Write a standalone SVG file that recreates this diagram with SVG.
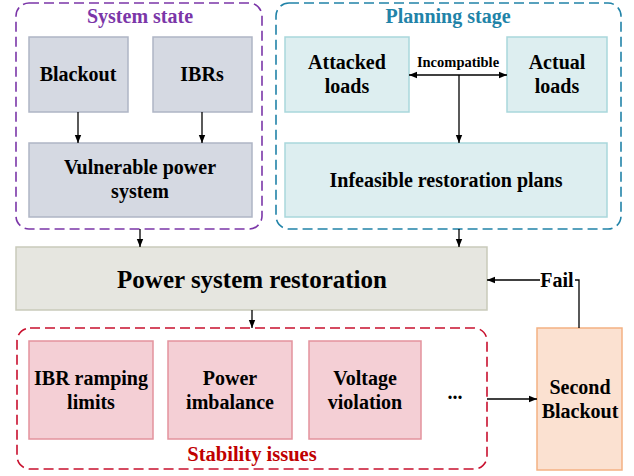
<svg xmlns="http://www.w3.org/2000/svg" width="634" height="476" viewBox="0 0 634 476">
<defs>
<marker id="ah" viewBox="0 0 8 8" refX="8" refY="4" markerWidth="8" markerHeight="8" markerUnits="userSpaceOnUse" orient="auto-start-reverse">
<path d="M0,0.8 L8,4 L0,7.2 Z" fill="#000"/>
</marker>
<style>
text{font-family:"Liberation Serif","Times New Roman",serif;font-weight:bold;text-anchor:middle;fill:#000}
.t{font-size:20px}
.grp{fill:none;stroke-width:1.6;stroke-dasharray:10 5}
.gs{fill:#D5D9E2;stroke:#AEB5C5;stroke-width:1.5}
.gp{fill:#DDEEF0;stroke:#A9D7DC;stroke-width:1.5}
.gr{fill:#E6E6E0;stroke:#C9CABA;stroke-width:1.5}
.gx{fill:#F4CFD5;stroke:#E3939D;stroke-width:1.5}
.gb{fill:#FBE1D1;stroke:#F4B183;stroke-width:1.5}
.c{fill:none;stroke:#000;stroke-width:1.3}
</style>
</defs>
<rect width="634" height="476" fill="#fff"/>

<g id="system-state">
<rect class="grp" x="16" y="3" width="246" height="226" rx="13" stroke="#7B36A8"/>
<text x="140" y="23" style="font-size:20px;fill:#7B36A8">System state</text>
</g>
<g id="planning-stage">
<rect class="grp" x="276" y="3" width="345" height="226" rx="13" stroke="#2183A8"/>
<text x="448" y="23" style="font-size:20px;fill:#2183A8">Planning stage</text>
</g>
<g id="stability-issues">
<rect class="grp" x="17" y="328" width="470" height="141" rx="13" stroke="#C8102E"/>
<text x="252" y="461" style="font-size:20.5px;fill:#C00000">Stability issues</text>
</g>

<g id="blackout"><rect class="gs" x="29" y="37" width="99" height="75"/><text class="t" x="78" y="81">Blackout</text></g>
<g id="ibrs"><rect class="gs" x="153" y="37" width="99" height="75"/><text class="t" x="202" y="81">IBRs</text></g>
<g id="vulnerable"><rect class="gs" x="29" y="143" width="223" height="74"/><text class="t" x="140" y="174">Vulnerable power</text><text class="t" x="140" y="198">system</text></g>

<g id="attacked"><rect class="gp" x="285" y="37" width="124" height="75"/><text class="t" x="347" y="69">Attacked</text><text class="t" x="347" y="93">loads</text></g>
<g id="actual"><rect class="gp" x="507" y="37" width="100" height="75"/><text class="t" x="557" y="69">Actual</text><text class="t" x="557" y="93">loads</text></g>
<g id="infeasible"><rect class="gp" x="285" y="143" width="322" height="74"/><text class="t" x="446" y="187">Infeasible restoration plans</text></g>

<g id="restoration"><rect class="gr" x="16" y="247" width="471" height="63"/><text x="252" y="288" style="font-size:25px">Power system restoration</text></g>

<g id="ibr-ramping"><rect class="gx" x="29" y="341" width="124" height="98"/><text class="t" x="91" y="385">IBR ramping</text><text class="t" x="91" y="409">limits</text></g>
<g id="power-imbalance"><rect class="gx" x="168" y="341" width="124" height="98"/><text class="t" x="230" y="385">Power</text><text class="t" x="230" y="409">imbalance</text></g>
<g id="voltage-violation"><rect class="gx" x="309" y="341" width="112" height="98"/><text class="t" x="365" y="385">Voltage</text><text class="t" x="365" y="409">violation</text></g>
<g id="more"><text class="t" x="455" y="399">...</text></g>

<g id="second-blackout"><rect class="gb" x="537" y="328" width="85" height="142"/><text class="t" x="580" y="394">Second</text><text class="t" x="580" y="418">Blackout</text></g>

<g id="connectors">
<line class="c" x1="78" y1="112" x2="78" y2="143" marker-end="url(#ah)"/>
<line class="c" x1="202" y1="112" x2="202" y2="143" marker-end="url(#ah)"/>
<line class="c" x1="409" y1="75" x2="507" y2="75" marker-start="url(#ah)" marker-end="url(#ah)"/>
<line class="c" x1="459" y1="75" x2="459" y2="143" marker-end="url(#ah)"/>
<text x="458" y="67" style="font-size:14.5px">Incompatible</text>
<line class="c" x1="140" y1="229" x2="140" y2="247" marker-end="url(#ah)"/>
<line class="c" x1="459" y1="229" x2="459" y2="247" marker-end="url(#ah)"/>
<line class="c" x1="252" y1="310" x2="252" y2="328" marker-end="url(#ah)"/>
<line class="c" x1="487" y1="399" x2="537" y2="399" marker-end="url(#ah)"/>
<polyline class="c" points="579,328 579,280 575,280"/>
<line class="c" x1="540" y1="280" x2="487" y2="280" marker-end="url(#ah)"/>
<text x="557" y="287" style="font-size:20px">Fail</text>
</g>
</svg>
